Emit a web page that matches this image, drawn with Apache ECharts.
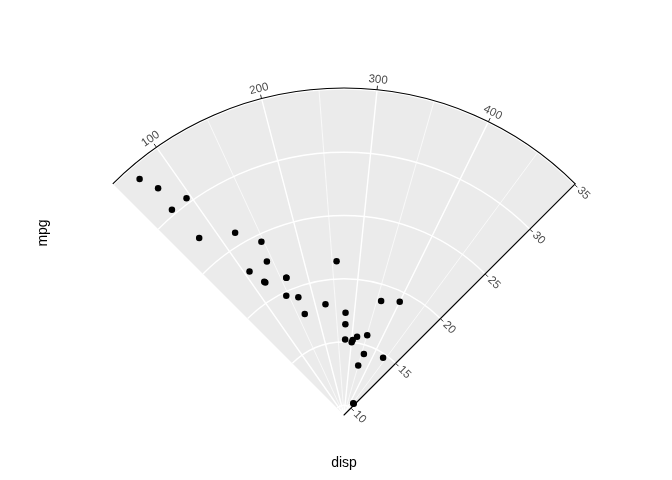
<!DOCTYPE html>
<html><head><meta charset="utf-8">
<script src="https://cdn.jsdelivr.net/npm/echarts@6/dist/echarts.min.js"></script>
<style>html,body{margin:0;padding:0;background:#fff}#c{width:672px;height:480px}</style>
</head><body><div id="c"></div>
<script>
// mtcars: disp (theta) and mpg (radius)
const disp = [160,160,108,258,360,225,360,146.7,140.8,167.6,167.6,275.8,275.8,275.8,472,460,440,78.7,75.7,71.1,120.1,318,304,350,400,79,120.3,95.1,351,145,301,121];
const mpg  = [21.0,21.0,22.8,21.4,18.7,18.1,14.3,24.4,22.8,19.2,17.8,16.4,17.3,15.2,10.4,10.4,14.7,32.4,30.4,33.9,21.5,15.5,15.2,13.3,19.2,27.3,26.0,30.4,15.8,19.7,15.0,21.4];
const dispMajor = [100,200,300,400];
const dispMinor = [150,250,350,450];
const mpgMajor = [10,15,20,25,30,35];
const dispRange = [51.055, 492.045];
const mpgRange = [9.225, 35.075];

const center = [344, 415], R = 327;
const font = 'Liberation Sans, Arial, sans-serif';
const hidden = {axisLine:{show:false}, axisTick:{show:false}, axisLabel:{show:false}, splitLine:{show:false}, splitArea:{show:false}};

function ang(extra){
  return Object.assign({type:'value', min:dispRange[0], max:dispRange[1], startAngle:135, endAngle:45, clockwise:true}, extra);
}
function rad(extra){
  return Object.assign({type:'value', min:mpgRange[0], max:mpgRange[1]}, extra);
}
const P = {center:center, radius:[0,R]};
const option = {
  animation:false,
  polar:[P, P, P],
  angleAxis:[
    // 0: minor theta grid
    ang(Object.assign({polarIndex:0, z:1}, hidden, {
      axisTick:{show:false, customValues:dispMinor}, axisLabel:{show:false, customValues:dispMinor},
      splitLine:{show:true, lineStyle:{color:'#fff', width:0.7}}
    })),
    // 1: major theta grid + outer axis
    ang({polarIndex:1, z:2,
      axisLine:{show:true, lineStyle:{color:'#000', width:1.1}},
      axisTick:{show:true, length:4, customValues:dispMajor, lineStyle:{color:'#333', width:1}},
      axisLabel:{show:false, customValues:dispMajor},
      splitLine:{show:true, lineStyle:{color:'#fff', width:1.4}},
      splitArea:{show:false}
    }),
    // 2: carries the radius axis line on the right edge
    Object.assign({type:'value', min:dispRange[0], max:dispRange[1], startAngle:45, endAngle:-45, clockwise:true, polarIndex:2, z:3}, hidden)
  ],
  radiusAxis:[
    rad(Object.assign({polarIndex:0}, hidden)),
    rad({polarIndex:1, z:2,
      axisLine:{show:false}, axisTick:{show:false, customValues:mpgMajor}, axisLabel:{show:false, customValues:mpgMajor},
      splitLine:{show:true, lineStyle:{color:'#fff', width:1.4}}, splitArea:{show:false}
    }),
    rad({polarIndex:2, z:4,
      axisLine:{show:true, lineStyle:{color:'#000', width:1.1}},
      axisTick:{show:true, length:-4, customValues:mpgMajor, lineStyle:{color:'#333', width:1}},
      axisLabel:{show:false, customValues:mpgMajor},
      splitLine:{show:false}, splitArea:{show:false}
    })
  ],
  graphic:[
    {type:'text', id:'xt', z:10, style:{text:'disp', fontSize:14, fontFamily:font, fill:'#000', align:'center', verticalAlign:'middle'}, x:344, y:463},
    {type:'text', id:'yt', z:10, style:{text:'mpg', fontSize:14, fontFamily:font, fill:'#000', align:'center', verticalAlign:'middle'}, x:43.5, y:233, rotation:Math.PI/2}
  ],
  series:[{
    // grey panel sector, spanning the theta range through the polar scale
    type:'custom', coordinateSystem:'polar', polarIndex:1, z:-5, silent:true,
    data:[[mpgRange[1], dispRange[0]]],
    renderItem:function(params, api){
      const cs = params.coordSys;
      const a0 = api.coord([mpgRange[1], dispRange[0]]);
      const a1 = api.coord([mpgRange[1], dispRange[1]]);
      const s = Math.atan2(a0[1]-cs.cy, a0[0]-cs.cx);
      const e = Math.atan2(a1[1]-cs.cy, a1[0]-cs.cx);
      return {type:'sector', shape:{cx:cs.cx, cy:cs.cy, r0:0, r:cs.r, startAngle:s, endAngle:e, clockwise:true},
        style:{fill:'#EBEBEB', stroke:null}};
    }
  },{
    type:'scatter', coordinateSystem:'polar', polarIndex:1, z:5,
    symbolSize:6.5, itemStyle:{color:'#000', opacity:1},
    data: disp.map((d,i)=>[mpg[i], d])
  }]
};
const chart = echarts.init(document.getElementById('c'), null, {renderer:'canvas'});
chart.setOption(option);

// tick labels, positioned through the polar scales
const g = [];
dispMajor.forEach((v,i)=>{
  const p = chart.convertToPixel({polarIndex:1}, [mpgRange[1], v]);
  const dx = p[0]-center[0], dy = p[1]-center[1];
  const len = Math.sqrt(dx*dx+dy*dy);
  const off = 10;
  const a = Math.atan2(-dy, dx);
  g.push({type:'text', id:'tl'+i, z:10, x:p[0]+dx/len*off, y:p[1]+dy/len*off, rotation:a - Math.PI/2,
    style:{text:String(v), fontSize:11.5, fontFamily:font, fill:'#4D4D4D', align:'center', verticalAlign:'middle'}});
});
mpgMajor.forEach((v,i)=>{
  const p = chart.convertToPixel({polarIndex:1}, [v, dispRange[1]]);
  const off = 12.5;
  g.push({type:'text', id:'rl'+i, z:10, x:p[0]+Math.SQRT1_2*off, y:p[1]+Math.SQRT1_2*off, rotation:-Math.PI/4,
    style:{text:String(v), fontSize:11.5, fontFamily:font, fill:'#4D4D4D', align:'center', verticalAlign:'middle'}});
});
chart.setOption({graphic:g});
</script></body></html>
